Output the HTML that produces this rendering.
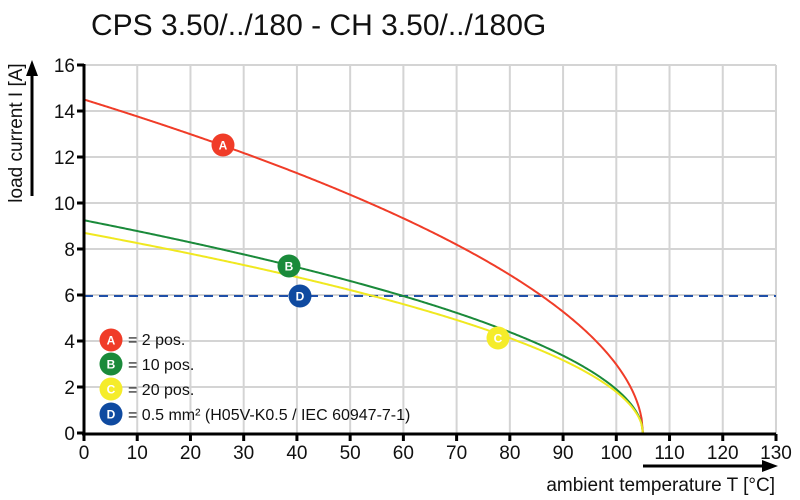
<!DOCTYPE html>
<html><head><meta charset="utf-8"><style>
body{margin:0;background:#fff;}
svg{display:block;font-family:"Liberation Sans",Arial,sans-serif;}
</style></head><body>
<svg id="s" width="800" height="500" viewBox="0 0 800 500" xmlns="http://www.w3.org/2000/svg">
<rect width="800" height="500" fill="#fff"/>
<text x="91" y="35" font-size="30" fill="#111">CPS 3.50/../180 - CH 3.50/../180G</text>
<g id="grid" stroke="#d4d4d4" stroke-width="2"></g>
<line x1="84" y1="296" x2="776" y2="296" stroke="#1f4fa8" stroke-width="2" stroke-dasharray="9,6"/>
<g id="curves" fill="none" stroke-width="2"></g>
<g id="axes" stroke="#000" stroke-width="3">
<line x1="84" y1="64" x2="84" y2="435"/>
<line x1="82" y1="434" x2="776" y2="434"/>
</g>
<g id="ticks" font-size="19" fill="#111"></g>
<text transform="translate(22,133) rotate(-90)" font-size="19" text-anchor="middle" fill="#111">load current I [A]</text>
<line x1="32" y1="196" x2="32" y2="72" stroke="#000" stroke-width="3"/>
<polygon points="32,60 26,76 38,76" fill="#000"/>
<text x="775" y="491" font-size="19" text-anchor="end" fill="#111">ambient temperature T [°C]</text>
<line x1="643" y1="466" x2="766" y2="466" stroke="#000" stroke-width="3"/>
<polygon points="778,466 762,460 762,472" fill="#000"/>
<g id="marks" font-size="12" font-weight="bold" text-anchor="middle" fill="#fff"></g>
<g font-size="16" fill="#111">
<text x="128" y="345">= 2 pos.</text>
<text x="128" y="370">= 10 pos.</text>
<text x="128" y="395">= 20 pos.</text>
<text x="128" y="420">= 0.5 mm² (H05V-K0.5 / IEC 60947-7-1)</text>
</g>
</svg>
<script>
var NS="http://www.w3.org/2000/svg";
function X(t){return 84+t*5.323;}function Y(v){return 433-v*23;}
function el(p,n,a,txt){var e=document.createElementNS(NS,n);for(var k in a)e.setAttribute(k,a[k]);if(txt)e.textContent=txt;document.getElementById(p).appendChild(e);}
for(var t=10;t<=130;t+=10)el("grid","line",{x1:X(t),y1:65,x2:X(t),y2:434});
for(var v=2;v<=16;v+=2)el("grid","line",{x1:84,y1:Y(v),x2:776,y2:Y(v)});
for(var t=0;t<=130;t+=10){el("ticks","line",{x1:X(t),y1:434,x2:X(t),y2:441,stroke:"#000","stroke-width":3});el("ticks","text",{x:X(t),y:459,"text-anchor":"middle"},""+t);}
for(var v=0;v<=16;v+=2){el("ticks","line",{x1:77,y1:Y(v),x2:84,y2:Y(v),stroke:"#000","stroke-width":3});el("ticks","text",{x:75,y:Y(v)+7,"text-anchor":"end"},""+v);}
[[14.5,"#f03c28"],[9.25,"#1a8a3a"],[8.7,"#f0e820"]].forEach(function(c){var d="";for(var i=0;i<=420;i++){var t=i*0.25;var v=c[0]*Math.pow(Math.max(0,1-t/105),0.52);d+=(i?"L":"M")+X(t).toFixed(2)+" "+Y(v).toFixed(2);}el("curves","path",{d:d,stroke:c[1]});});
function mk(x,y,col,l){el("marks","circle",{cx:x,cy:y,r:11.5,fill:col});el("marks","text",{x:x,y:y+4.5},l);}
mk(223,145,"#f03c28","A");mk(289,266,"#1a8a3a","B");mk(498,338,"#f5ec2a","C");mk(300,296,"#0f4aa0","D");
mk(111,340,"#f03c28","A");mk(111,364,"#1a8a3a","B");mk(111,389,"#f5ec2a","C");mk(111,414,"#0f4aa0","D");
</script>
</body></html>
